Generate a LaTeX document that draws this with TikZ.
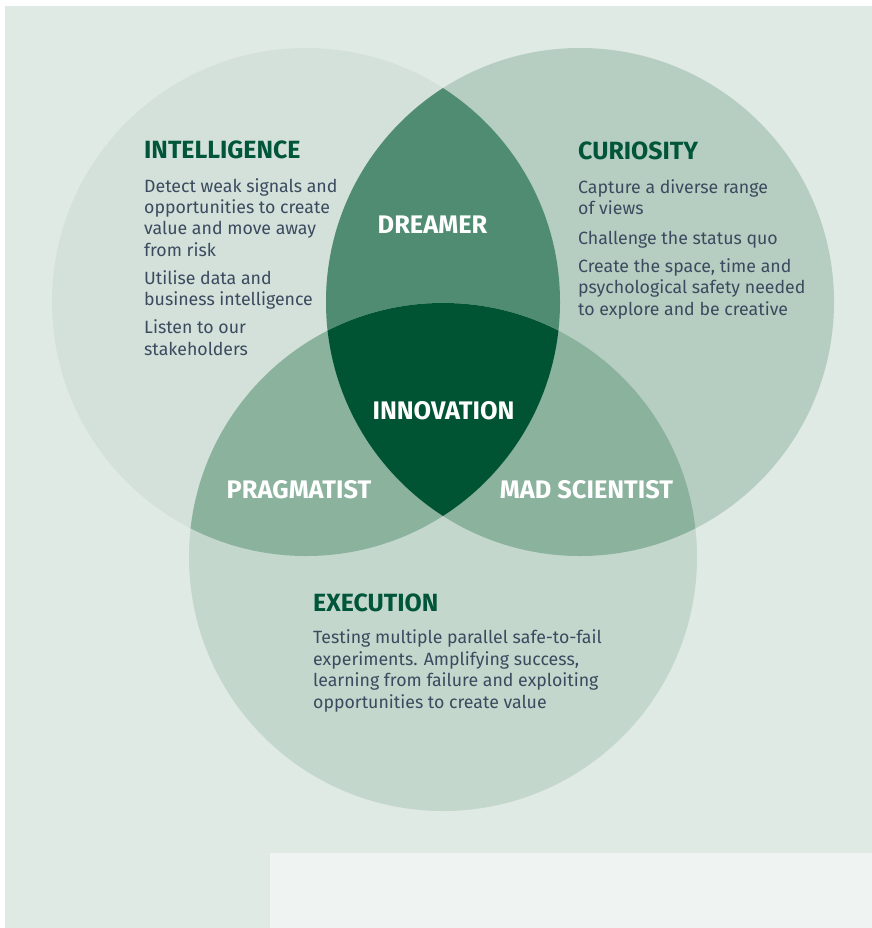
\documentclass[tikz,border=0pt]{standalone}
\usepackage{fontspec}
\setmainfont{Fira Sans}
\usepackage{xcolor}
\usetikzlibrary{positioning}

\definecolor{pagebg}{HTML}{E0EAE4}
\definecolor{panelbg}{HTML}{EFF4F2}
\definecolor{intelbg}{HTML}{D3E1DA}
\definecolor{curiobg}{HTML}{B6CEC1}
\definecolor{execbg}{HTML}{C4D7CD}
\definecolor{dreamerbg}{HTML}{4F8C72}
\definecolor{pairbg}{HTML}{8AB29D}
\definecolor{innovbg}{HTML}{005433}
\definecolor{titlegreen}{HTML}{00553A}
\definecolor{bodyink}{HTML}{3B4A5E}

\newcommand{\rad}{254bp}

\begin{document}
\begin{tikzpicture}[x=1bp,y=-1bp,
    title/.style={font=\fontsize{25}{29}\selectfont\bfseries,text=titlegreen,anchor=base west,inner sep=0pt},
    body/.style={font=\fontsize{17.8}{21.5}\selectfont,text=bodyink,align=left,anchor=base west,inner sep=0pt},
    tag/.style={font=\fontsize{25.5}{29}\selectfont\bfseries,text=white,anchor=base,inner sep=0pt}]
  \useasboundingbox (0,0) rectangle (872,928);
  \fill[pagebg] (5,6) rectangle (872,928);
  \fill[panelbg] (270,853) rectangle (872,928);

  % circle centres
  \coordinate (cint) at (306,302);
  \coordinate (ccur) at (580,302);
  \coordinate (cexe) at (443,557);

  \fill[intelbg] (cint) circle[radius=\rad];
  \fill[curiobg] (ccur) circle[radius=\rad];
  \fill[execbg] (cexe) circle[radius=\rad];

  % overlaps
  \begin{scope}
    \clip (cint) circle[radius=\rad];
    \fill[dreamerbg] (ccur) circle[radius=\rad];
    \fill[pairbg] (cexe) circle[radius=\rad];
  \end{scope}
  \begin{scope}
    \clip (ccur) circle[radius=\rad];
    \fill[pairbg] (cexe) circle[radius=\rad];
    \clip (cint) circle[radius=\rad];
    \fill[innovbg] (cexe) circle[radius=\rad];
  \end{scope}

  % texts (body nodes sit on the baseline of their last line)
  \node[title] (inttitle) at (144,158) {INTELLIGENCE};
  \node[body] (inttext) at (144,355) {Detect weak signals and\\opportunities to create\\value and move away\\from risk\\[6.5bp]
    Utilise data and\\business intelligence\\[6.5bp]
    Listen to our\\stakeholders};

  \node[title] (curtitle) at (578,159) {CURIOSITY};
  \node[body] (curtext) at (578,315) {Capture a diverse range\\of views\\[8bp]
    Challenge the status quo\\[6.5bp]
    Create the space, time and\\psychological safety needed\\to explore and be creative};

  \node[title] (exetitle) at (313,611) {EXECUTION};
  \node[body] (exetext) at (313,708) {Testing multiple parallel safe-to-fail\\experiments. Amplifying success,\\learning from failure and exploiting\\opportunities to create value};

  \node[tag] (dreamer) at (432.5,233) {DREAMER};
  \node[tag] (innovation) at (443.5,419) {INNOVATION};
  \node[tag] (pragmatist) at (299,498) {PRAGMATIST};
  \node[tag] (madsci) at (586.5,498) {MAD SCIENTIST};
\end{tikzpicture}
\end{document}
